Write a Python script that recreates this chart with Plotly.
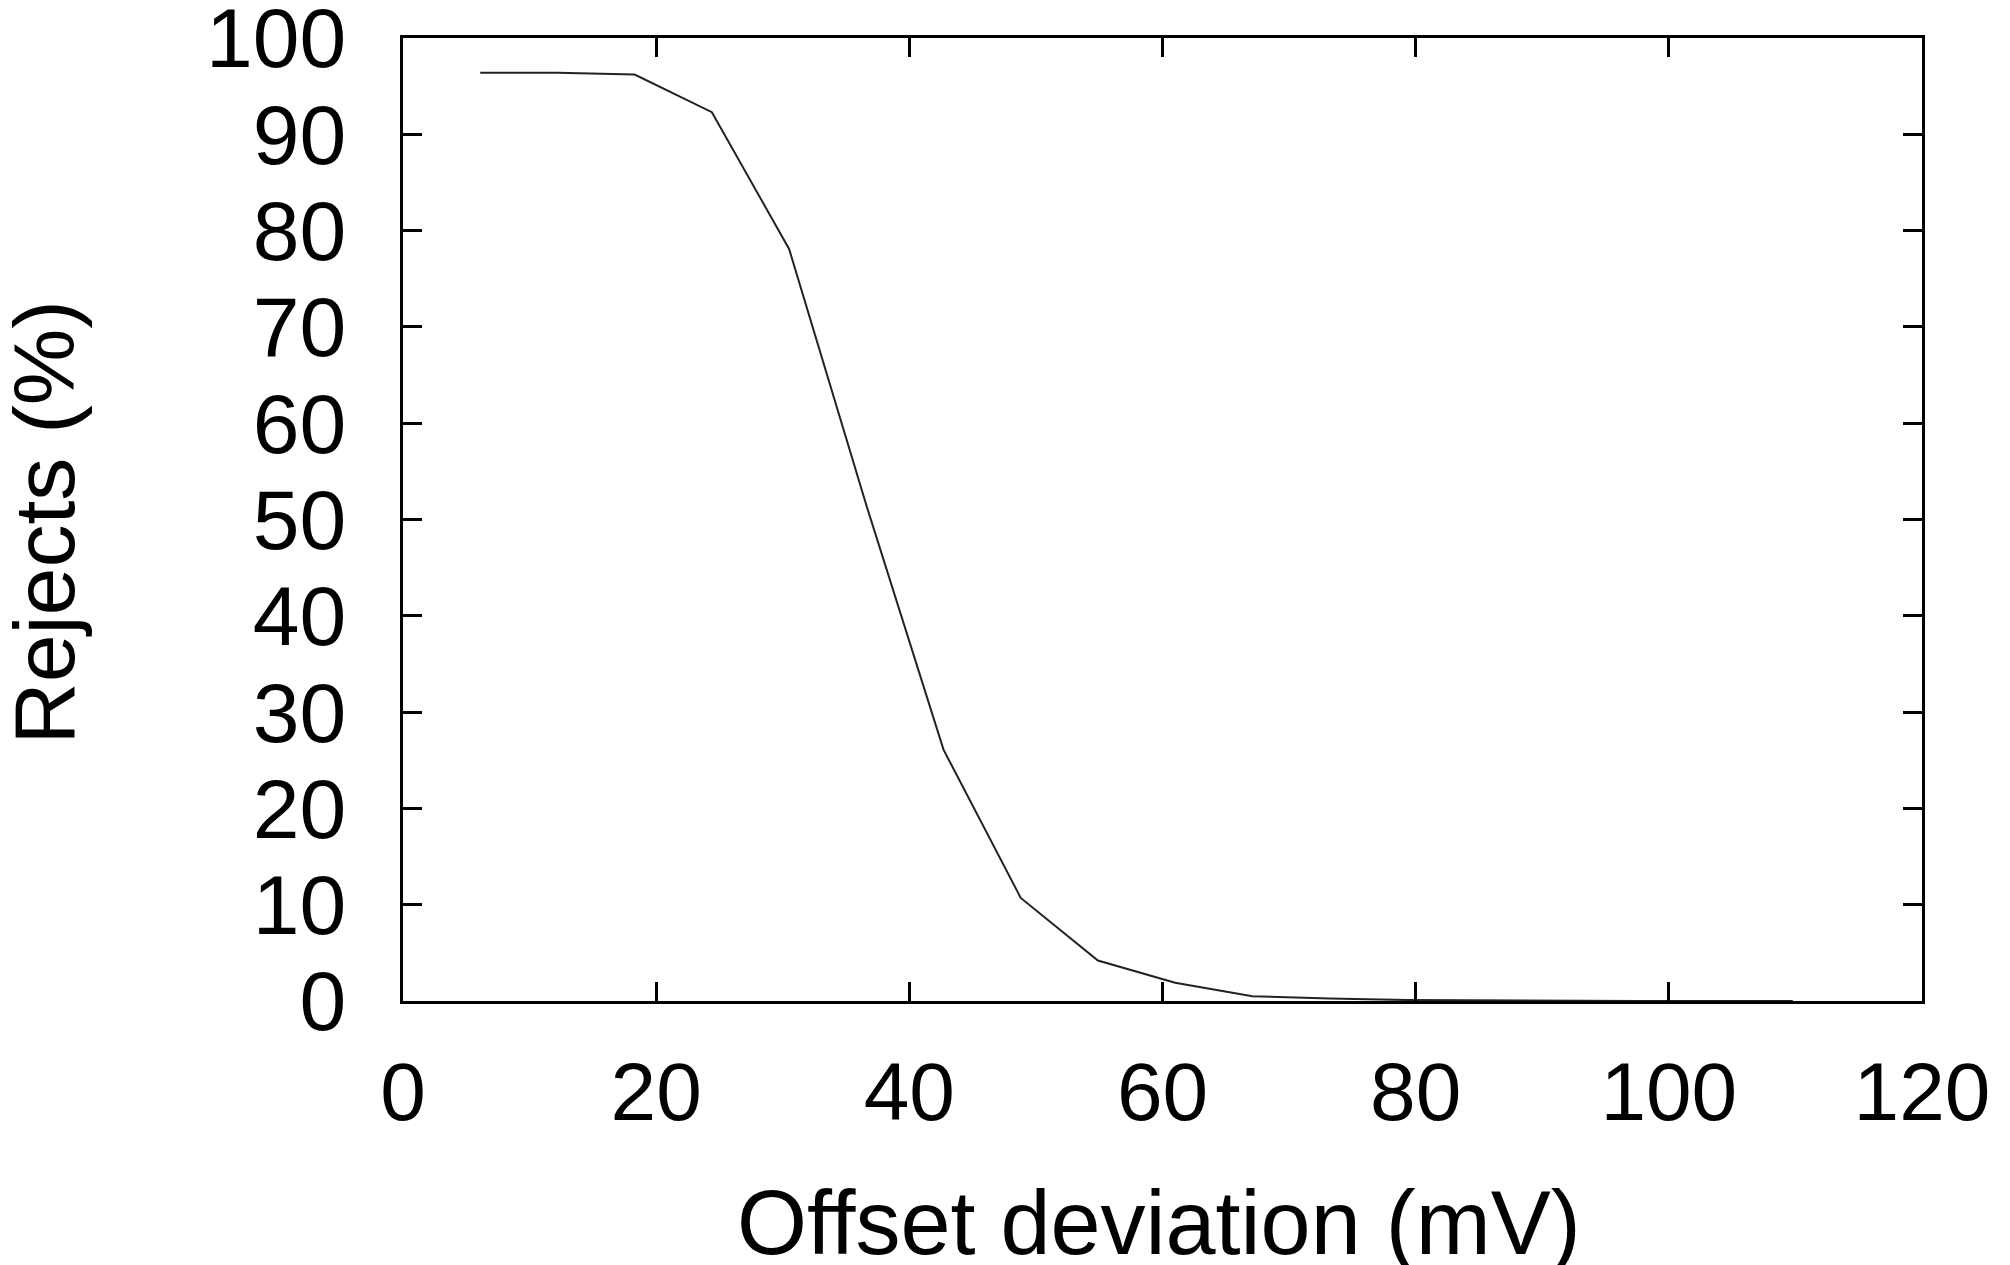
import plotly.graph_objects as go

offset_mv = [6.1, 12.2, 18.3, 24.4, 30.5, 36.6, 42.7, 48.8, 54.9, 61.0,
             67.1, 73.2, 79.3, 85.4, 91.5, 97.6, 103.7, 109.8]
rejects_pct = [96.4, 96.4, 96.2, 92.3, 78.1, 51.5, 26.1, 10.7, 4.2, 1.9,
               0.5, 0.25, 0.1, 0.05, 0.02, 0.01, 0.0, 0.0]

x_ticks = [0, 20, 40, 60, 80, 100, 120]
y_ticks = [0, 10, 20, 30, 40, 50, 60, 70, 80, 90, 100]

FONT = "Liberation Sans, Arial, Helvetica, sans-serif"

fig = go.Figure()
fig.add_trace(go.Scatter(x=offset_mv, y=rejects_pct, mode="lines",
                         line=dict(color="#222222", width=2),
                         showlegend=False))

axis_common = dict(showline=True, linecolor="black", linewidth=3, mirror="ticks",
                   ticks="inside", ticklen=19, tickwidth=3, tickcolor="black",
                   showgrid=False, zeroline=False, automargin=False,
                   ticklabeloverflow="allow")

fig.update_xaxes(range=[-0.001, 120.001], tickvals=x_ticks, ticktext=[str(v) for v in x_ticks],
                 tickfont=dict(family=FONT, size=82, color="black"),
                 ticklabelstandoff=18, **axis_common)
fig.update_yaxes(range=[-0.001, 100.001], tickvals=y_ticks, ticktext=[str(v) for v in y_ticks],
                 tickfont=dict(family=FONT, size=84, color="black"),
                 ticklabelstandoff=37, **axis_common)

fig.update_layout(
    width=2010, height=1265,
    margin=dict(l=395, r=96, t=30, b=272),
    plot_bgcolor="white", paper_bgcolor="white",
    annotations=[
        dict(text="Offset deviation (mV)", xref="paper", yref="paper",
             x=0.498, y=-0.231, xanchor="center", yanchor="middle",
             showarrow=False, font=dict(family=FONT, size=90, color="black")),
        dict(text="Rejects (%)", xref="paper", yref="paper",
             x=-0.2363, y=0.497, xanchor="center", yanchor="middle", textangle=-90,
             showarrow=False, font=dict(family=FONT, size=86, color="black")),
    ],
)

fig.write_html("out.html")
